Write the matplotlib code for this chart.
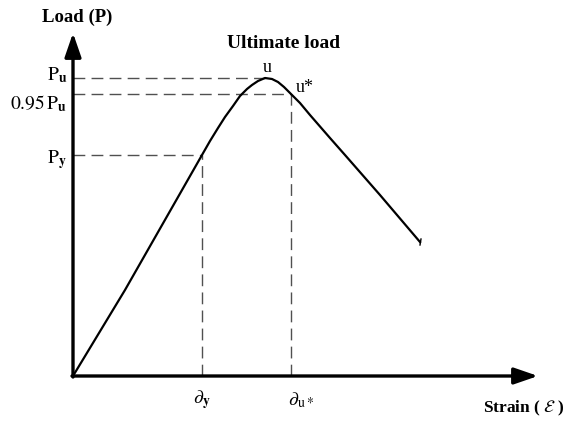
import numpy as np
import matplotlib.pyplot as plt

plt.rcParams['font.family'] = ['Liberation Serif', 'DejaVu Serif']
plt.rcParams['mathtext.fontset'] = 'stix'

# load-strain curve (arbitrary units)
strain = [0, 52, 129, 137, 145, 152, 160, 167, 174, 179, 185, 192, 199, 205, 211, 218,
          227, 237, 257, 272, 307, 347]
load = [0, 86, 221, 235, 248, 259, 270, 280, 287, 291, 295, 298, 297, 294, 289, 282,
        273, 261, 238, 221, 181, 134]

# characteristic points
P_u = 298
P_95 = 282
P_y = 221
strain_u = 192
strain_y = 129
strain_ustar = 218

x_max = 465
y_max = 343

fig = plt.figure(figsize=(5.71, 4.22), dpi=100)
ax = fig.add_axes([0, 0, 1, 1])
ax.set_xlim(-73, 498)
ax.set_ylim(-46, 376)
ax.axis('off')

# axes with arrow heads
arrow = dict(arrowstyle='-|>,head_length=1.45,head_width=0.5', lw=2.4,
             color='black', shrinkA=0, shrinkB=0)
ax.annotate('', xy=(0, y_max), xytext=(0, -1), arrowprops=arrow)
ax.annotate('', xy=(x_max, 0), xytext=(-1, 0), arrowprops=arrow)

# dashed guide lines
dash = dict(color='#505050', lw=1.0, dashes=(8.5, 4.5))
ax.plot([0, strain_u], [P_u, P_u], **dash)
ax.plot([0, strain_ustar], [P_95, P_95], **dash)
ax.plot([0, strain_y], [P_y, P_y], **dash)
ax.plot([strain_y, strain_y], [0, P_y], **dash)
ax.plot([strain_ustar, strain_ustar], [0, P_95], **dash)

# curve
ax.plot(strain, load, color='black', lw=1.6, solid_joinstyle='round')
ax.plot([strain[-1], strain[-1] + 1], [load[-1] - 3, load[-1] + 3], color='black', lw=1)

# labels
ax.text(4, 359, 'Load (P)', fontsize=13.5, fontweight='bold', ha='center', va='center')
ax.text(211, 333, 'Ultimate load', fontsize=14, fontweight='bold', ha='center', va='center')
ax.text(strain_u + 2, P_u + 11, 'u', fontsize=13, ha='center', va='center')
ax.text(strain_ustar + 5, P_95 + 6, 'u*', fontsize=13, ha='left', va='center')

ax.text(-6, P_u + 3, r'$\mathrm{P}_{\mathbf{u}}$', fontsize=14, ha='right', va='center')
ax.text(-6, P_95 - 10, r'$\mathrm{0.95\,P}_{\mathbf{u}}$', fontsize=14, ha='right', va='center')
ax.text(-6, P_y - 5, r'$\mathrm{P}_{\mathbf{y}}$', fontsize=14, ha='right', va='center')

ax.text(strain_y, -24, r'$\partial_{\mathbf{y}}$', fontsize=14, ha='center', va='center')
ax.text(strain_ustar + 10, -24, r'$\partial_{\mathrm{u}*}$', fontsize=14, ha='center', va='center')
ax.text(451, -32, r'Strain ( $\mathcal{E}$ )', fontsize=12.5, fontweight='bold', ha='center', va='center')

fig.savefig('out.png', dpi=100)
